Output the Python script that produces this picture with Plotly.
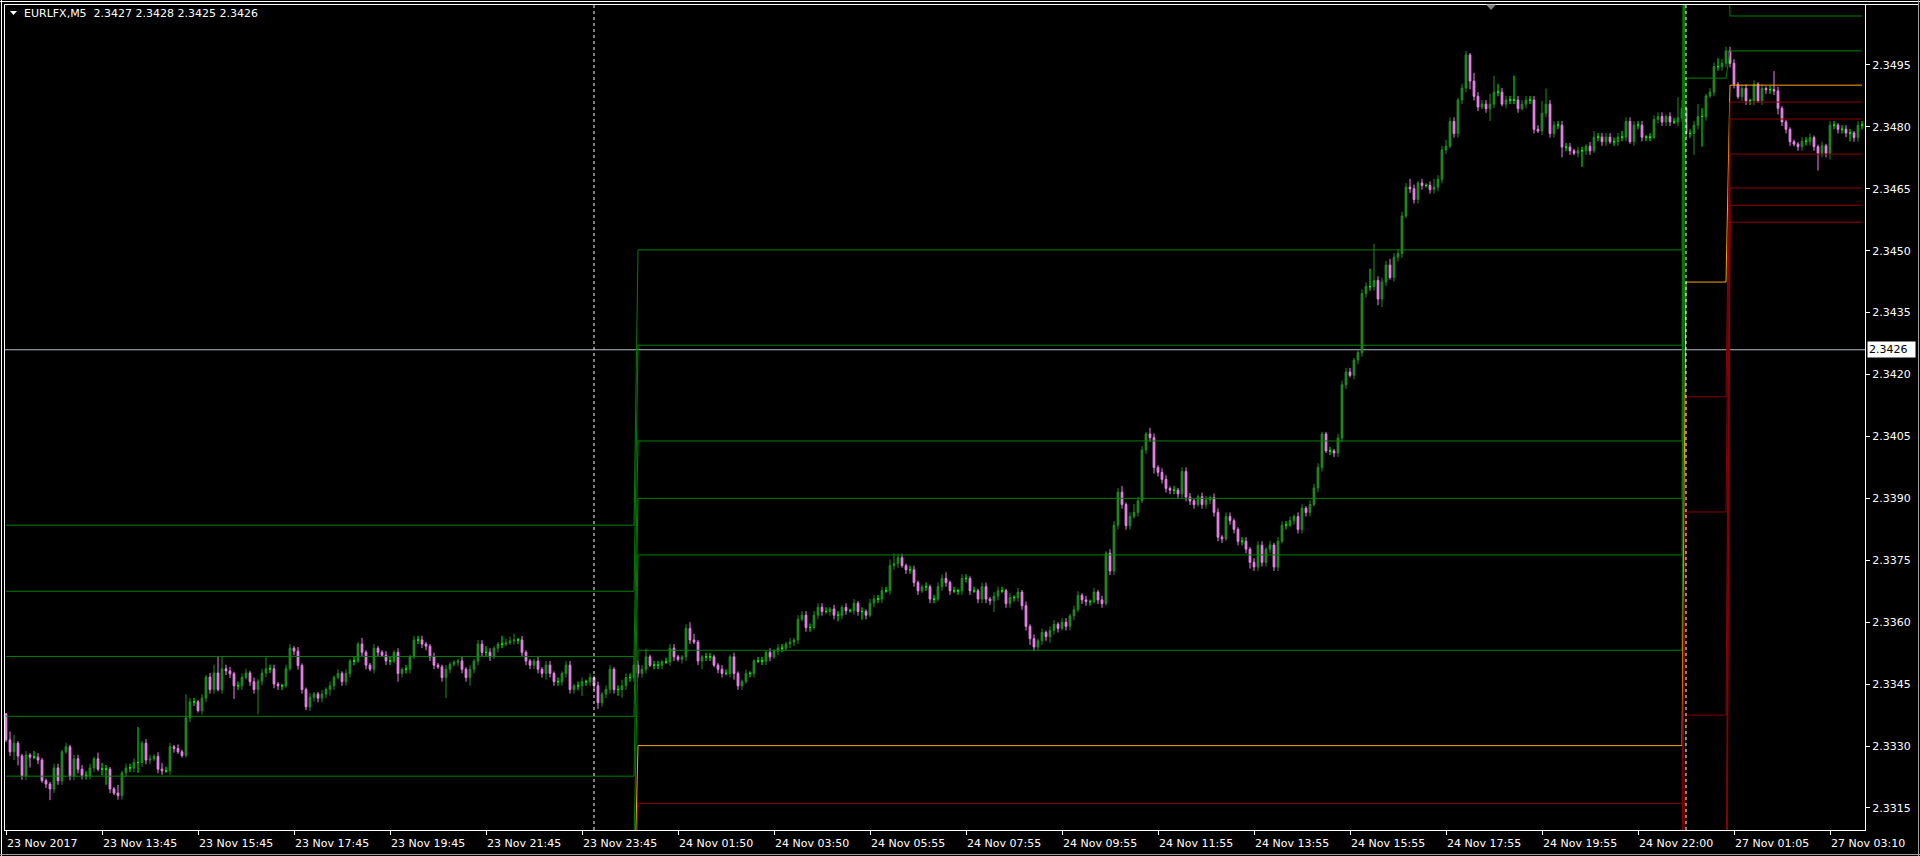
import plotly.graph_objects as go

# ---------------- data (prices in pips above 2.3300) ----------------
PRICE_BASE = 2.3300
PIP = 0.0001

first_open = 37.8
closes = [
    31.5, 28.6, 30.7, 27.6, 22.8, 27.8, 27.3, 27.3, 26.6, 21.6,
    20.8, 19.6, 24.7, 21.6, 28.6, 29.8, 22.7, 26.9, 24.4, 22.9,
    22.9, 24.7, 26.9, 24.4, 24.4, 24.4, 19.6, 18.6, 18.0, 23.5,
    24.7, 24.7, 26.0, 26.0, 30.7, 26.6, 26.9, 27.5, 24.4, 24.0,
    24.0, 29.8, 29.4, 28.6, 27.7, 36.8, 40.7, 40.7, 38.6, 41.6,
    46.7, 43.7, 47.7, 43.7, 48.7, 48.2, 47.5, 44.6, 44.6, 46.6,
    47.7, 45.6, 43.7, 45.7, 47.7, 48.7, 48.7, 45.0, 44.6, 44.6,
    48.7, 53.7, 53.0, 49.5, 43.7, 39.5, 41.8, 42.6, 41.6, 42.6,
    43.7, 44.6, 46.6, 47.6, 45.6, 47.6, 50.6, 50.6, 54.7, 52.7,
    49.6, 48.6, 53.7, 52.7, 52.0, 50.6, 50.6, 52.7, 47.6, 48.6,
    48.6, 51.6, 55.7, 55.7, 54.7, 54.2, 51.6, 49.6, 49.2, 46.6,
    48.6, 49.8, 50.3, 50.6, 48.6, 46.6, 48.6, 50.6, 54.7, 52.7,
    52.7, 51.6, 53.7, 54.7, 54.7, 55.0, 55.5, 55.7, 55.7, 52.7,
    50.6, 49.6, 50.6, 48.6, 47.6, 49.6, 47.6, 45.6, 45.6, 47.6,
    49.6, 43.7, 44.6, 44.6, 45.6, 45.6, 46.6, 44.6, 40.5, 42.6,
    43.7, 48.6, 43.7, 43.7, 44.6, 46.6, 46.6, 49.6, 47.6, 48.6,
    51.6, 49.6, 49.6, 49.6, 50.4, 50.4, 53.7, 51.6, 51.0, 51.6,
    58.5, 55.7, 55.2, 50.6, 51.6, 51.6, 51.6, 49.6, 48.6, 47.6,
    47.6, 51.6, 47.6, 44.6, 45.6, 47.6, 47.6, 50.6, 50.6, 50.6,
    52.7, 51.6, 53.0, 53.7, 53.7, 54.7, 55.2, 55.7, 60.7, 61.7,
    58.7, 58.7, 61.7, 63.6, 62.6, 62.6, 63.2, 61.7, 61.7, 63.6,
    62.8, 62.8, 64.6, 62.6, 62.6, 61.7, 64.6, 65.6, 65.6, 67.6,
    67.6, 73.7, 74.2, 75.6, 73.7, 72.7, 72.7, 69.6, 67.6, 68.6,
    68.6, 65.6, 65.6, 68.6, 70.6, 69.6, 67.6, 67.6, 67.6, 70.6,
    70.6, 67.6, 67.6, 65.6, 68.6, 65.6, 65.2, 66.3, 67.6, 67.6,
    64.5, 66.0, 66.0, 67.3, 64.0, 59.0, 56.0, 54.0, 55.5, 57.5,
    56.5, 58.0, 59.5, 58.5, 60.0, 59.0, 61.5, 63.0, 66.5, 65.4,
    65.0, 65.0, 67.3, 65.4, 64.5, 76.7, 72.4, 83.5, 91.5, 88.5,
    83.4, 85.6, 86.6, 89.4, 101.7, 105.6, 104.7, 97.5, 96.3, 94.6,
    92.4, 92.0, 92.0, 91.1, 96.5, 90.3, 89.4, 88.5, 90.4, 88.5,
    89.6, 90.2, 86.6, 80.6, 80.2, 85.6, 84.6, 82.5, 79.6, 79.6,
    77.7, 74.5, 73.4, 78.6, 74.5, 77.7, 78.7, 73.4, 79.6, 83.5,
    83.5, 84.6, 85.6, 82.5, 87.6, 86.6, 88.5, 92.5, 97.5, 105.6,
    101.5, 101.5, 101.0, 104.6, 117.5, 120.6, 119.8, 123.5, 125.3, 139.6,
    141.3, 141.3, 142.8, 138.3, 142.4, 146.5, 143.5, 148.4, 149.3, 158.4,
    165.4, 165.0, 162.4, 166.4, 165.8, 165.8, 164.8, 165.4, 167.3, 174.4,
    175.3, 181.3, 178.4, 186.5, 189.4, 197.4, 191.1, 187.4, 184.8, 185.5,
    184.4, 185.5, 188.4, 188.4, 185.5, 186.5, 186.5, 186.5, 184.4, 185.5,
    186.5, 186.5, 179.4, 179.0, 183.3, 185.5, 178.4, 180.4, 180.4, 175.1,
    175.1, 174.2, 173.6, 174.2, 174.2, 175.3, 174.2, 177.5, 177.5, 176.4,
    177.5, 176.4, 176.4, 177.5, 177.5, 181.3, 176.4, 180.4, 180.4, 177.5,
    177.5, 177.5, 181.8, 182.5, 181.2, 182.5, 181.2, 181.2, 182.2, 184.5,
    178.4, 178.4, 180.4, 182.5, 182.5, 187.5, 188.4, 194.6, 194.6, 195.4,
    198.4, 195.4, 190.3, 187.3, 189.3, 186.3, 186.3, 190.3, 186.3, 189.3,
    189.0, 189.0, 188.7, 184.5, 181.2, 179.4, 176.4, 175.8, 175.2, 176.5,
    176.5, 177.4, 175.2, 173.6, 175.4, 173.6, 180.4, 180.4, 179.4, 179.4,
    178.5, 178.5, 177.4, 180.4, 180.4,
]
upper_wick = [
    0.2, 2.0, 2.0, 0.5, 0.5, 1.0, 0.5, 1.5, 1.0, 0.5, 0.5, 0.5, 1.0, 1.0, 0.5, 1.0, 0.5, 1.0, 1.0, 1.0,
    1.0, 1.0, 0.5, 1.5, 1.5, 1.0, 0.5, 0.5, 2.0, 0.5, 1.0, 1.0, 1.0, 8.6, 0.5, 1.0, 1.0, 0.5, 1.0, 1.5,
    1.0, 1.0, 0.5, 1.0, 0.5, 5.8, 1.0, 1.0, 0.5, 1.0, 0.5, 1.0, 2.0, 3.9, 2.9, 1.0, 1.0, 0.5, 1.0, 1.0,
    1.0, 0.5, 1.0, 0.5, 1.0, 3.0, 1.0, 1.0, 0.5, 0.5, 1.0, 1.0, 0.5, 1.0, 0.5, 0.5, 1.0, 0.5, 0.5, 1.0,
    0.5, 1.0, 0.5, 1.0, 0.5, 1.0, 0.5, 1.0, 0.5, 1.5, 0.5, 0.5, 1.0, 0.5, 0.5, 1.0, 1.0, 0.5, 1.0, 0.5,
    1.0, 0.5, 1.0, 1.0, 1.0, 0.5, 0.5, 1.0, 0.5, 0.5, 1.0, 0.5, 0.5, 0.5, 1.0, 0.5, 1.0, 0.5, 1.0, 1.0,
    1.5, 1.0, 0.5, 0.5, 2.0, 1.0, 1.0, 1.5, 0.5, 1.0, 0.5, 0.5, 0.5, 1.0, 0.5, 1.0, 1.0, 0.5, 1.0, 0.5,
    1.0, 1.0, 0.5, 1.0, 1.0, 0.5, 1.0, 0.5, 1.0, 0.5, 1.0, 1.0, 0.5, 1.0, 1.5, 1.0, 1.0, 2.0, 1.0, 1.0,
    2.0, 0.5, 1.0, 1.0, 0.5, 1.0, 1.0, 1.0, 0.5, 0.5, 1.0, 1.5, 1.5, 0.5, 0.5, 1.0, 1.0, 0.5, 0.5, 1.0,
    1.0, 0.5, 1.0, 0.5, 0.5, 1.0, 0.5, 0.5, 1.0, 1.0, 0.5, 1.0, 0.5, 1.0, 1.0, 0.5, 1.0, 0.5, 1.0, 1.0,
    1.0, 1.0, 1.0, 1.0, 1.0, 1.0, 0.5, 1.0, 1.0, 0.5, 1.0, 0.5, 1.0, 0.5, 1.0, 0.5, 1.0, 1.0, 1.0, 1.0,
    1.0, 1.5, 2.5, 1.0, 1.0, 0.5, 1.0, 1.0, 0.5, 0.5, 1.0, 0.5, 1.0, 1.0, 1.0, 1.5, 0.5, 1.0, 0.5, 1.0,
    1.0, 0.5, 1.0, 0.5, 1.0, 1.0, 0.5, 1.0, 1.0, 1.0, 0.5, 1.0, 0.5, 1.0, 0.5, 1.0, 0.5, 1.0, 0.5, 1.0,
    0.5, 1.0, 1.0, 0.5, 1.0, 1.0, 0.5, 1.0, 1.0, 0.5, 1.0, 0.5, 1.0, 0.5, 1.0, 0.5, 1.0, 1.0, 1.0, 1.5,
    0.5, 1.0, 2.0, 1.0, 1.0, 0.5, 1.5, 1.0, 0.5, 1.0, 1.0, 0.5, 1.0, 0.5, 1.0, 1.0, 1.0, 0.5, 0.5, 1.0,
    1.0, 0.5, 1.0, 1.0, 0.5, 1.0, 1.0, 0.5, 0.5, 1.0, 1.0, 0.5, 1.0, 1.0, 1.0, 0.5, 1.0, 0.5, 1.0, 1.0,
    1.0, 1.0, 0.5, 1.0, 1.0, 0.5, 1.0, 1.0, 1.0, 0.5, 0.5, 1.0, 0.5, 1.0, 1.0, 1.0, 1.0, 0.5, 0.5, 1.0,
    1.0, 4.3, 8.9, 1.0, 1.0, 1.0, 1.5, 1.0, 1.0, 1.0, 1.0, 2.0, 1.0, 0.5, 1.0, 0.5, 1.0, 2.0, 1.0, 1.0,
    1.5, 1.0, 1.0, 0.5, 1.0, 1.0, 0.5, 2.0, 1.0, 1.0, 1.0, 2.5, 4.0, 2.0, 1.0, 1.0, 1.0, 5.9, 1.0, 1.0,
    1.0, 1.0, 1.0, 1.0, 3.0, 3.8, 1.0, 1.0, 1.0, 1.0, 1.0, 1.0, 0.5, 1.0, 1.0, 0.5, 1.0, 1.5, 1.0, 1.0,
    1.0, 1.0, 1.0, 1.0, 1.5, 1.0, 1.0, 1.0, 1.0, 1.0, 0.5, 1.0, 1.0, 1.0, 1.0, 0.5, 1.0, 1.0, 5.0, 2.0,
    0.5, 1.0, 1.0, 3.0, 2.0, 0.5, 1.0, 1.0, 2.0, 1.0, 1.0, 1.0, 1.0, 0.5, 1.0, 1.0, 0.5, 1.0, 0.5, 1.0,
    0.5, 1.0, 4.5, 1.0, 0.5, 0.5, 0.5, 0.5, 0.5, 1.0, 1.0, 1.0, 0.5, 0.5, 1.0, 0.5, 1.0, 1.0, 0.5, 1.0,
    1.0, 1.0, 0.5, 1.0, 1.0,
]
lower_wick = [
    0.5, 1.0, 2.0, 2.3, 1.0, 1.0, 2.5, 0.5, 1.0, 0.5, 1.0, 2.7, 1.0, 1.0, 1.0, 0.5, 1.0, 1.0, 1.0, 1.0,
    1.0, 1.0, 1.0, 0.5, 1.5, 3.8, 1.0, 0.5, 1.0, 1.0, 1.0, 1.0, 1.0, 2.5, 1.0, 1.0, 1.0, 0.5, 1.0, 1.0,
    0.5, 1.0, 1.0, 0.5, 0.5, 0.5, 1.0, 1.0, 0.5, 1.0, 1.0, 1.0, 1.0, 0.5, 1.0, 1.0, 1.0, 3.2, 1.0, 1.0,
    0.5, 1.0, 1.0, 6.0, 1.0, 1.0, 1.0, 1.0, 1.0, 1.0, 0.5, 0.5, 1.0, 1.0, 1.0, 0.8, 1.0, 1.0, 1.0, 1.0,
    1.0, 1.5, 1.0, 0.5, 1.0, 1.0, 1.0, 1.0, 0.5, 1.0, 1.0, 0.5, 1.0, 1.0, 0.5, 1.0, 1.0, 0.5, 2.0, 1.0,
    1.0, 1.0, 0.5, 1.0, 1.0, 1.0, 1.0, 1.0, 0.5, 1.0, 5.0, 1.0, 0.5, 1.0, 1.0, 1.0, 2.0, 1.0, 1.0, 1.0,
    1.0, 1.0, 0.5, 1.0, 1.0, 0.5, 0.5, 1.0, 1.0, 1.0, 1.0, 1.0, 1.0, 1.0, 1.0, 1.5, 1.0, 1.0, 1.0, 1.0,
    1.0, 1.0, 1.0, 1.0, 2.5, 1.0, 1.0, 1.0, 1.5, 1.0, 1.0, 1.0, 1.0, 1.5, 2.0, 1.0, 1.0, 1.0, 1.0, 1.0,
    1.0, 0.5, 1.0, 1.0, 1.0, 0.5, 1.0, 1.0, 0.5, 1.0, 1.0, 1.0, 0.5, 1.0, 2.0, 1.0, 1.0, 0.5, 1.0, 1.0,
    0.5, 1.0, 1.5, 1.0, 1.0, 0.5, 1.0, 1.0, 0.5, 1.0, 1.0, 1.0, 0.5, 1.0, 1.0, 0.5, 1.0, 1.0, 1.0, 0.5,
    1.0, 1.0, 0.5, 1.0, 1.0, 0.5, 1.0, 1.0, 1.5, 1.0, 1.0, 0.5, 1.0, 1.0, 2.0, 1.0, 0.5, 1.0, 1.0, 1.0,
    0.5, 1.0, 1.0, 1.0, 0.5, 1.0, 1.0, 1.0, 1.0, 0.5, 1.0, 1.0, 1.0, 0.5, 1.0, 1.0, 1.0, 0.5, 1.0, 1.0,
    1.0, 1.0, 0.5, 1.0, 1.0, 1.0, 1.0, 2.7, 1.0, 0.5, 1.0, 1.0, 1.0, 1.0, 1.0, 1.0, 1.5, 1.0, 1.0, 1.0,
    1.0, 1.5, 1.0, 1.0, 0.5, 1.0, 1.0, 1.0, 0.5, 1.0, 1.0, 1.0, 0.5, 1.0, 1.0, 0.5, 1.0, 1.0, 1.0, 1.0,
    1.0, 1.0, 0.5, 1.0, 0.5, 1.0, 1.0, 1.5, 1.0, 1.0, 1.0, 1.0, 1.0, 1.0, 1.0, 1.0, 1.0, 1.0, 0.5, 1.0,
    1.0, 1.0, 1.0, 1.0, 1.0, 0.5, 1.0, 1.0, 1.0, 1.0, 1.0, 1.5, 1.0, 1.0, 1.0, 1.0, 1.0, 1.0, 1.0, 0.5,
    1.0, 0.5, 1.0, 1.0, 1.0, 1.0, 1.0, 0.5, 1.0, 1.0, 0.5, 1.0, 1.0, 1.0, 1.0, 1.0, 0.5, 1.0, 1.0, 1.0,
    1.0, 1.0, 1.0, 1.5, 2.0, 1.0, 0.5, 1.0, 1.0, 1.0, 0.5, 1.0, 1.0, 1.0, 1.0, 0.5, 1.0, 1.0, 1.0, 1.0,
    1.0, 0.5, 1.0, 1.0, 1.0, 1.0, 2.0, 1.0, 1.0, 0.5, 1.0, 3.0, 1.0, 1.0, 0.5, 1.0, 1.0, 1.0, 1.0, 0.5,
    1.0, 1.0, 1.0, 0.5, 1.0, 1.0, 1.0, 1.0, 1.0, 2.5, 1.0, 1.0, 0.5, 1.0, 3.9, 1.0, 1.0, 0.5, 1.0, 1.0,
    1.0, 0.5, 1.0, 1.0, 1.0, 1.0, 0.5, 1.0, 1.0, 1.0, 1.0, 1.0, 0.5, 1.0, 1.0, 1.0, 1.0, 0.5, 1.0, 1.0,
    1.0, 1.0, 5.2, 1.0, 7.3, 1.0, 0.5, 1.0, 1.0, 1.0, 1.0, 1.0, 1.0, 0.5, 1.0, 1.0, 1.0, 1.0, 0.5, 1.0,
    1.0, 1.0, 1.0, 1.5, 1.0, 1.0, 1.0, 0.5, 1.0, 1.0, 1.0, 1.0, 1.0, 4.2, 1.0, 1.0, 1.5, 1.0, 1.0, 1.0,
    1.0, 2.0, 1.0, 1.0, 1.0,
]

time_labels = [
    "23 Nov 2017", "23 Nov 13:45", "23 Nov 15:45", "23 Nov 17:45", "23 Nov 19:45",
    "23 Nov 21:45", "23 Nov 23:45", "24 Nov 01:50", "24 Nov 03:50", "24 Nov 05:55",
    "24 Nov 07:55", "24 Nov 09:55", "24 Nov 11:55", "24 Nov 13:55", "24 Nov 15:55",
    "24 Nov 17:55", "24 Nov 19:55", "24 Nov 22:00", "27 Nov 01:05", "27 Nov 03:10",
]
label_step = 24

price_ticks = [2.3315, 2.3330, 2.3345, 2.3360, 2.3375, 2.3390, 2.3405,
               2.3420, 2.3435, 2.3450, 2.3465, 2.3480, 2.3495]

# indicator levels (pips above base) for each segment
level_seg_start = [0, 158, 420, 431]
green_levels = [
    [83.5, 67.5, 51.7, 37.2, 22.7, 6.7],
    [150.2, 127.1, 103.9, 90.0, 76.3, 53.2],
    [396.0, 346.0, 297.0, 269.0, 241.2, 191.8],
    [232.0, 223.6, 215.2, 211.0, 206.85, 198.4],
]
orange_levels = [-9.3, 30.1, 142.4, 190.1]
red_levels = [
    [-23.8, -38.3, -54.3, -70.3, -84.8, -99.3],
    [16.1, 2.1, -21.0, -44.0, -58.0, -72.0],
    [114.6, 86.7, 37.5, -11.7, -39.5, -67.3],
    [186.0, 181.9, 173.4, 165.2, 161.0, 156.9],
]

day_separators = [147, 420]
bid_price = 2.3426
header_symbol = "EURLFX,M5"
header_ohlc = ["2.3427", "2.3428", "2.3425", "2.3426"]

# ---------------- build ----------------
W, H = 1920, 856
ML, MR, MT, MB = 4, 55, 4, 26
PW, PH = W - ML - MR, H - MT - MB


def price(v):
    return round(PRICE_BASE + v * PIP, 6)


def paper_x(px):
    return (px - ML) / PW


def paper_y(py):
    return (H - MB - py) / PH


n = len(closes)
opens = [first_open] + closes[:-1]
O = [price(v) for v in opens]
C = [price(v) for v in closes]
Hh = [price(max(o, c) + u) for o, c, u in zip(opens, closes, upper_wick)]
Ll = [price(min(o, c) - l) for o, c, l in zip(opens, closes, lower_wick)]

BULL = "#228B22"
BEAR = "#EE82EE"
DOJI = "#00FF00"
GREEN = "#008000"
ORANGE = "#FFA500"
DARKRED = "#8B0000"

fig = go.Figure()


def add_candles(idx, color):
    fig.add_trace(go.Candlestick(
        x=idx,
        open=[O[i] for i in idx], high=[Hh[i] for i in idx],
        low=[Ll[i] for i in idx], close=[C[i] for i in idx],
        increasing=dict(line=dict(color=color, width=1), fillcolor=color),
        decreasing=dict(line=dict(color=color, width=1), fillcolor=color),
        whiskerwidth=0, showlegend=False, hoverinfo="none",
    ))


bull_idx = [i for i in range(n) if closes[i] > opens[i]]
bear_idx = [i for i in range(n) if closes[i] < opens[i]]
doji_idx = [i for i in range(n) if closes[i] == opens[i]]
add_candles(bull_idx, BULL)
add_candles(bear_idx, BEAR)
add_candles(doji_idx, DOJI)


def seg_of(i):
    s = 0
    for k, st in enumerate(level_seg_start):
        if i >= st:
            s = k
    return s


xs = list(range(n))
seg_index = [seg_of(i) for i in xs]


def add_level(values, color):
    fig.add_trace(go.Scatter(
        x=xs, y=[price(values[s]) for s in seg_index], mode="lines",
        line=dict(color=color, width=1), showlegend=False, hoverinfo="skip",
    ))


for k in range(6):
    add_level([seg[k] for seg in green_levels], GREEN)
add_level(orange_levels, ORANGE)
for k in range(6):
    add_level([seg[k] for seg in red_levels], DARKRED)

x_lo = (ML - 6) / 4.0
x_hi = x_lo + PW / 4.0
y_lo = price(9.66)
y_hi = price(9.66 + PH / 4.128)

shapes = []
# bid line
shapes.append(dict(type="line", xref="paper", yref="y", x0=0, x1=1, y0=bid_price, y1=bid_price,
                   line=dict(color="#B4BCC6", width=1), layer="below"))
# period separators
for s in day_separators:
    shapes.append(dict(type="line", xref="x", yref="paper", x0=s, x1=s, y0=0, y1=1,
                       line=dict(color="#FFFFFF", width=1, dash="3px,3px"), layer="above"))
# window frame
frame = [
    (0, 1.5, W, 1.5, "#FFFFFF"), (1.5, 0, 1.5, H, "#FFFFFF"),
    (4.5, 4.5, W - 2, 4.5, "#FFFFFF"), (4.5, 4.5, 4.5, H - MB, "#FFFFFF"),
    (W - 1.5, 0, W - 1.5, H, "#A0A0A0"), (0, H - 1.5, W, H - 1.5, "#A0A0A0"),
]
for x0, y0, x1, y1, col in frame:
    shapes.append(dict(type="line", xref="paper", yref="paper",
                       x0=paper_x(x0), x1=paper_x(x1), y0=paper_y(y0), y1=paper_y(y1),
                       line=dict(color=col, width=1), layer="above"))


def tri_path(pts):
    p = "M " + " L ".join(f"{paper_x(a):.6f},{paper_y(b):.6f}" for a, b in pts) + " Z"
    return p


shapes.append(dict(type="path", xref="paper", yref="paper",
                   path=tri_path([(10, 11), (17, 11), (13.5, 15)]),
                   fillcolor="#FFFFFF", line=dict(width=0)))
shapes.append(dict(type="path", xref="paper", yref="paper",
                   path=tri_path([(1486, 4.5), (1496, 4.5), (1491, 10)]),
                   fillcolor="#808080", line=dict(width=0)))

FONT = "DejaVu Sans"
annotations = []
annotations.append(dict(xref="paper", yref="paper", x=paper_x(22), y=paper_y(13.5),
                        xanchor="left", yanchor="middle", showarrow=False,
                        text=header_symbol + "\u00a0\u00a0" + " ".join(header_ohlc),
                        font=dict(family=FONT, size=11, color="#FFFFFF")))
for k, lab in enumerate(time_labels):
    annotations.append(dict(xref="x", yref="paper", x=k * label_step - 0.3, y=paper_y(843),
                            xanchor="left", yanchor="middle", showarrow=False, text=lab,
                            font=dict(family=FONT, size=11, color="#FFFFFF")))
annotations.append(dict(xref="paper", yref="y", x=paper_x(1867), y=bid_price,
                        xanchor="left", yanchor="middle", showarrow=False,
                        text="%.4f" % bid_price, bgcolor="#FFFFFF", width=45, align="left",
                        borderpad=1, font=dict(family=FONT, size=11, color="#000000")))

fig.update_layout(
    width=W, height=H,
    margin=dict(l=ML, r=MR, t=MT, b=MB, pad=0),
    paper_bgcolor="#000000", plot_bgcolor="#000000",
    font=dict(family=FONT, size=11, color="#FFFFFF"),
    boxgap=0.38, boxmode="overlay",
    showlegend=False,
    shapes=shapes, annotations=annotations,
    xaxis=dict(range=[x_lo, x_hi], showgrid=False, zeroline=False,
               rangeslider=dict(visible=False),
               showline=True, linecolor="#FFFFFF", linewidth=1,
               ticks="outside", ticklen=4, tickcolor="#FFFFFF",
               tickmode="array", tickvals=[k * label_step for k in range(len(time_labels))],
               showticklabels=False),
    yaxis=dict(range=[y_lo, y_hi], side="right", showgrid=False, zeroline=False,
               showline=True, linecolor="#FFFFFF", linewidth=1,
               ticks="outside", ticklen=4, tickcolor="#FFFFFF",
               tickmode="array", tickvals=price_ticks,
               ticktext=["%.4f" % v for v in price_ticks],
               tickfont=dict(family=FONT, size=11, color="#FFFFFF")),
)

fig.write_html("out.html", config={"displayModeBar": False},
               post_script="document.body.style.margin='0px';document.body.style.overflow='hidden';")
